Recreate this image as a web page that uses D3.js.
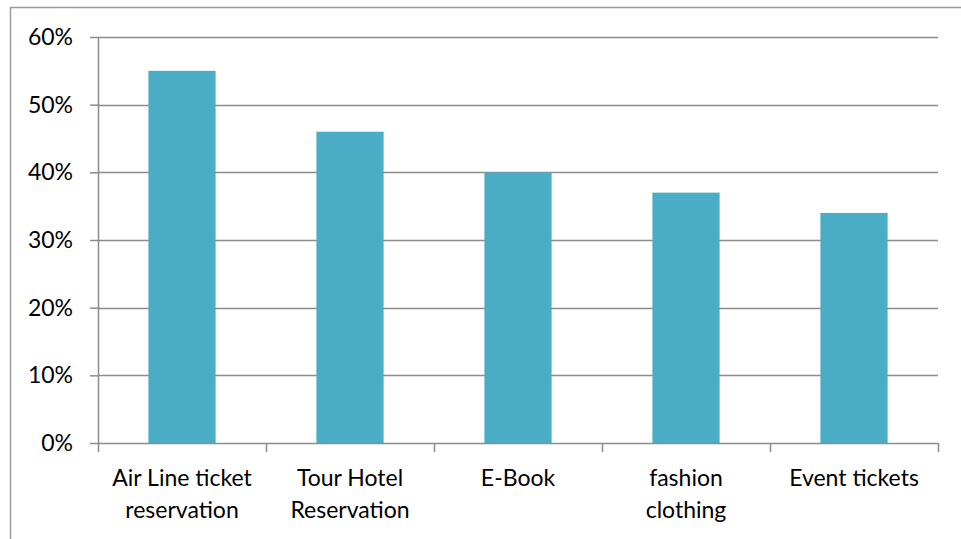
<!DOCTYPE html>
<html>
<head>
<meta charset="utf-8">
<script src="https://cdn.jsdelivr.net/npm/d3@7"></script>
<style>
  body { margin: 0; background: #fff; }
  text { font-family: Lato, "Open Sans", sans-serif; fill: #000; }
</style>
</head>
<body>
<div id="root"></div>
<script>
const categories = ["Air Line ticket\nreservation", "Tour Hotel\nReservation", "E-Book", "fashion\nclothing", "Event tickets"];
const values = [0.55, 0.46, 0.40, 0.37, 0.34];
const yTicks = [0, 0.1, 0.2, 0.3, 0.4, 0.5, 0.6];

const svg = d3.select("#root").append("svg")
  .attr("width", 961)
  .attr("height", 539);

// outer chart border
svg.append("rect")
  .attr("x", 10.5).attr("y", 7.5)
  .attr("width", 960).attr("height", 540)
  .attr("fill", "none")
  .attr("stroke", "#9a9a9a")
  .attr("stroke-width", 1.5);

const margin = { top: 37, left: 98, right: 23, bottom: 96 },
  width = 961 - margin.left - margin.right,
  height = 539 - margin.top - margin.bottom;

const g = svg.append("g").attr("transform", `translate(${margin.left},${margin.top})`);

const x = d3.scaleBand().domain(categories).range([0, width]).padding(0);
const y = d3.scaleLinear().domain([0, 0.6]).range([height, 0]);

// gridlines
g.append("g")
  .selectAll("line")
  .data(yTicks.filter(d => d > 0))
  .join("line")
  .attr("x1", 0).attr("x2", width)
  .attr("y1", d => Math.round(y(d)) + 0.5)
  .attr("y2", d => Math.round(y(d)) + 0.5)
  .attr("stroke", "#8c8c8c")
  .attr("stroke-width", 1.5);

// bars
const barW = x.step() * 0.4;
g.append("g")
  .selectAll("rect")
  .data(values)
  .join("rect")
  .attr("x", (d, i) => x(categories[i]) + (x.bandwidth() - barW) / 2)
  .attr("y", d => y(d))
  .attr("width", barW)
  .attr("height", d => height - y(d))
  .attr("fill", "#4bacc6");

// y axis
const yAxis = g.append("g")
  .call(d3.axisLeft(y).tickValues(yTicks).tickFormat(d3.format(".0%")).tickSize(8).tickPadding(17));
yAxis.select(".domain").attr("stroke", "#8c8c8c").attr("stroke-width", 1.5).attr("d", `M0.5,0V${height}`);
yAxis.selectAll(".tick line").attr("stroke", "#8c8c8c").attr("stroke-width", 1.5);
yAxis.selectAll(".tick text").attr("font-size", 23).style("font-family", "Lato, sans-serif");

// x axis
const xAxis = g.append("g")
  .attr("transform", `translate(0,${height})`)
  .call(d3.axisBottom(x).tickSize(0).tickPadding(0));
xAxis.select(".domain").attr("stroke", "#8c8c8c").attr("stroke-width", 1.5).attr("d", `M0,0.5H${width}`);
// category boundary ticks
xAxis.selectAll(".bound")
  .data(d3.range(categories.length + 1))
  .join("line")
  .attr("x1", i => i * x.step() + 0.5)
  .attr("x2", i => i * x.step() + 0.5)
  .attr("y1", 0).attr("y2", 9)
  .attr("stroke", "#8c8c8c")
  .attr("stroke-width", 1.5);

xAxis.selectAll(".tick text").each(function (d) {
  const t = d3.select(this).text(null)
    .attr("font-size", 23)
    .attr("y", null)
    .attr("dy", null)
    .style("font-family", "Lato, sans-serif");
  d.split("\n").forEach((line, k) => {
    t.append("tspan").attr("x", 0).attr("y", 43 + k * 32).text(line);
  });
});
</script>
</body>
</html>
